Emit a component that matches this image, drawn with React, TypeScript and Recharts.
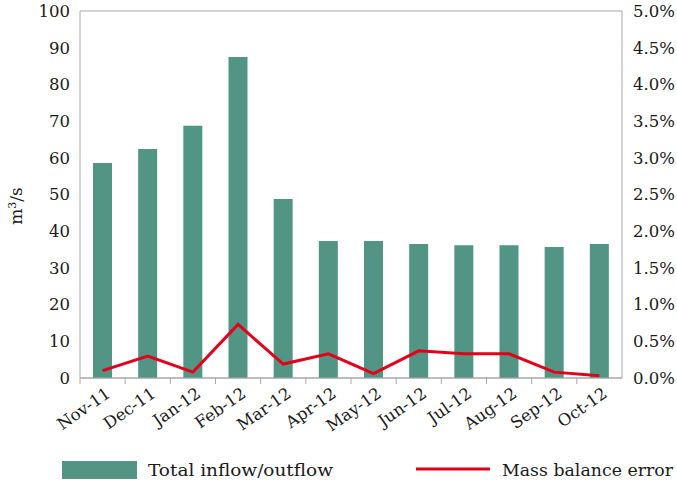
import React from 'react';
import { ComposedChart, Bar, Line, XAxis, YAxis, CartesianGrid, Legend, Label } from 'recharts';

const months = ['Nov-11', 'Dec-11', 'Jan-12', 'Feb-12', 'Mar-12', 'Apr-12', 'May-12', 'Jun-12', 'Jul-12', 'Aug-12', 'Sep-12', 'Oct-12'];
const flow = [58.6, 62.4, 68.7, 87.5, 48.8, 37.3, 37.3, 36.5, 36.2, 36.2, 35.7, 36.5];
const massError = [0.10, 0.30, 0.08, 0.73, 0.19, 0.33, 0.06, 0.37, 0.33, 0.33, 0.08, 0.03];
const leftTicks = [0, 10, 20, 30, 40, 50, 60, 70, 80, 90, 100];
const rightTicks = [0, 0.5, 1, 1.5, 2, 2.5, 3, 3.5, 4, 4.5, 5];

const data = months.map((m, i) => ({ month: m, flow: flow[i], err: massError[i] }));

const W = 677;
const H = 482;
const LEFT_W = 80;
const RIGHT_W = 55;
const FONT = "'DejaVu Serif', serif";
const GREEN = '#529584';
const RED = '#e2001a';
const GRID = '#a8a8a8';
const BAND = (W - LEFT_W - RIGHT_W) / months.length;

const XTick = (props: any) => {
  const { x, y, payload } = props;
  return (
    <g>
      <line x1={x - BAND / 2} x2={x - BAND / 2} y1={y - 8} y2={y - 2} stroke={GRID} strokeWidth={1} />
      <text
        x={x + 9}
        y={y + 10}
        textAnchor="end"
        fontFamily={FONT}
        fontSize={16.5}
        fill="#1a1a1a"
        transform={`rotate(-35, ${x + 9}, ${y + 10})`}
      >
        {payload.value}
      </text>
    </g>
  );
};

const LegendContent = () => (
  <svg width={W} height={32} style={{ display: 'block' }}>
    <rect x={62} y={11} width={75} height={18} fill={GREEN} />
    <text x={148} y={26} fontFamily={FONT} fontSize={17} fill="#1a1a1a" textLength={185} lengthAdjust="spacingAndGlyphs">Total inflow/outflow</text>
    <line x1={416} x2={490} y1={19} y2={19} stroke={RED} strokeWidth={3} />
    <text x={502} y={26} fontFamily={FONT} fontSize={16.5} fill="#1a1a1a" textLength={171} lengthAdjust="spacingAndGlyphs">Mass balance error</text>
  </svg>
);

export default function App() {
  return (
    <div style={{ position: 'absolute', left: 0, top: 0, width: W, height: H, background: '#fff' }}>
      <ComposedChart width={W} height={H} data={data} margin={{ top: 11, right: 0, bottom: 0, left: 0 }}>
        <CartesianGrid vertical={false} stroke={GRID} strokeWidth={1} />
        <XAxis
          dataKey="month"
          interval={0}
          tickLine={false}
          axisLine={{ stroke: GRID }}
          tick={<XTick />}
          height={72}
        />
        <YAxis
          yAxisId="left"
          orientation="left"
          width={LEFT_W}
          domain={[0, 100]}
          ticks={leftTicks}
          tickLine={false}
          axisLine={{ stroke: GRID }}
          tickMargin={4}
          tick={{ fontFamily: FONT, fontSize: 16.5, fill: '#1a1a1a' }}
          interval={0}
        >
          <Label
            content={() => {
              const cx = 22;
              const cy = 206;
              return (
                <text x={cx} y={cy} textAnchor="middle" fontFamily={FONT} fontSize={17} fill="#1a1a1a" transform={`rotate(-90, ${cx}, ${cy})`}>
                  m<tspan dy={-6} fontSize={11}>3</tspan><tspan dy={6}>/s</tspan>
                </text>
              );
            }}
          />
        </YAxis>
        <YAxis
          yAxisId="right"
          orientation="right"
          width={RIGHT_W}
          domain={[0, 5]}
          ticks={rightTicks}
          tickLine={false}
          axisLine={{ stroke: GRID }}
          tickMargin={5}
          tick={{ fontFamily: FONT, fontSize: 16.5, fill: '#1a1a1a', textAnchor: 'start' }}
          tickFormatter={(v: number) => `${v.toFixed(1)}%`}
          interval={0}
        />
        <Bar yAxisId="left" dataKey="flow" fill={GREEN} barSize={19} isAnimationActive={false} />
        <Line yAxisId="right" dataKey="err" stroke={RED} strokeWidth={3} dot={false} type="linear" isAnimationActive={false} />
        <Legend
          verticalAlign="bottom"
          height={32}
          content={<LegendContent />}
          wrapperStyle={{ left: 0, bottom: 0, width: W, height: 32 }}
        />
      </ComposedChart>
    </div>
  );
}
